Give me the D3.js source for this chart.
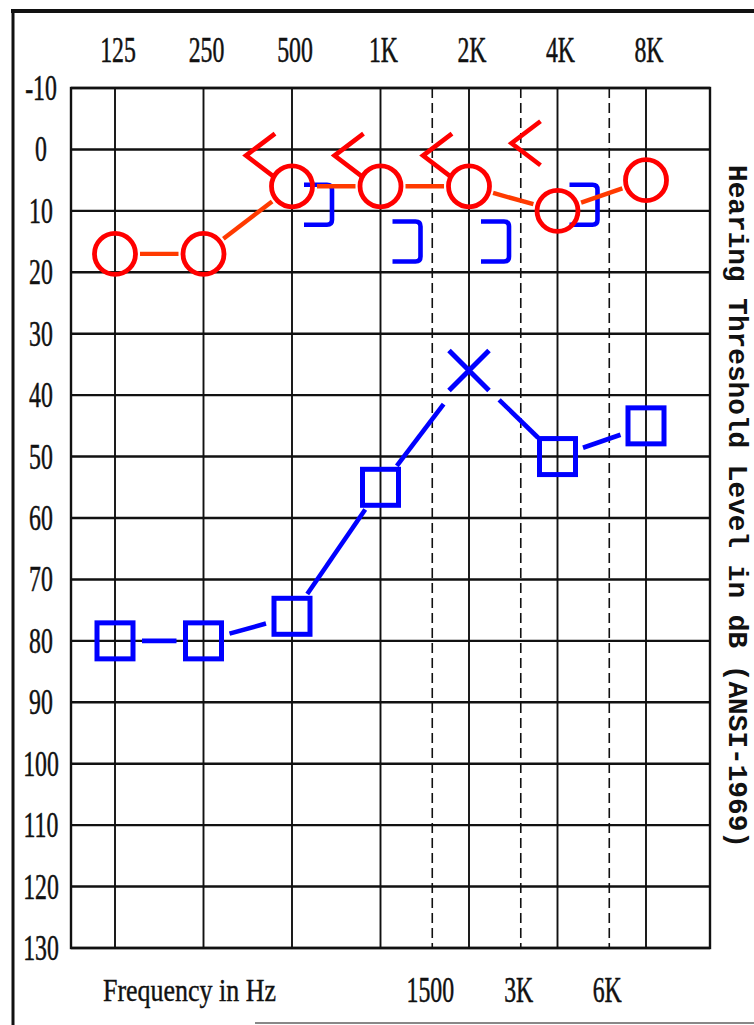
<!DOCTYPE html>
<html><head><meta charset="utf-8">
<script src="https://cdn.jsdelivr.net/npm/d3@7"></script>
<style>body{margin:0;background:#fff}svg{display:block}</style>
</head><body>
<svg id="c" width="754" height="1025"></svg>
<script>
// ---------- data ----------
const freqs = [125, 250, 500, 1000, 2000, 4000, 8000];
const freqLabels = ["125", "250", "500", "1K", "2K", "4K", "8K"];
const halfFreqs = [1500, 3000, 6000];
const halfLabels = ["1500", "3K", "6K"];
const dbTicks = d3.range(-10, 131, 10);
const rightAir = [17, 17, 6, 6, 6, 10, 5];            // red circles
const leftAir = [80, 80, 76, 55, 36, 50, 45];          // blue squares / X
const leftAirSymbol = ["square", "square", "square", "square", "x", "square", "square"];
const boneFreqs = [500, 1000, 2000, 4000];
const rightBone = [1, 1, 1, -1];                       // red "<"
const leftBone = [9, 15, 15, 9];                       // blue "]"
const xTitle = "Frequency in Hz";
const yTitle = "Hearing Threshold Level in dB (ANSI-1969)";

// ---------- layout ----------
const W = 754, H = 1025;
const plot = {left: 71, right: 710, top: 88, bottom: 948};
const svg = d3.select("#c");
svg.append("rect").attr("width", W).attr("height", H).attr("fill", "#fff");

const x = d3.scaleLog().domain([125, 8000]).range([115, 646]);
const y = d3.scaleLinear().domain([-10, 130]).range([plot.top, plot.bottom]);

const RED = "#ff0000", RED_LINE = "#ff3a00", BLUE = "#0000ff", INK = "#111";
const serif = "'Liberation Serif', 'DejaVu Serif', serif";

// outer frame pieces
svg.append("line").attr("x1", 11).attr("x2", W).attr("y1", 11).attr("y2", 11)
  .attr("stroke", INK).attr("stroke-width", 4);
svg.append("line").attr("x1", 13).attr("x2", 13).attr("y1", 9).attr("y2", H)
  .attr("stroke", INK).attr("stroke-width", 3);
svg.append("line").attr("x1", 255).attr("x2", W).attr("y1", 1023).attr("y2", 1023)
  .attr("stroke", "#888").attr("stroke-width", 2);

// grid
const g = svg.append("g");
g.selectAll("line.h").data(dbTicks).join("line").attr("class", "h")
  .attr("x1", plot.left).attr("x2", plot.right)
  .attr("y1", d => y(d)).attr("y2", d => y(d))
  .attr("stroke", INK).attr("stroke-width", 2.4);
g.selectAll("line.v").data(freqs).join("line").attr("class", "v")
  .attr("x1", d => x(d)).attr("x2", d => x(d))
  .attr("y1", plot.top).attr("y2", plot.bottom)
  .attr("stroke", INK).attr("stroke-width", 1.9);
g.selectAll("line.vd").data(halfFreqs).join("line").attr("class", "vd")
  .attr("x1", d => x(d)).attr("x2", d => x(d))
  .attr("y1", plot.top).attr("y2", plot.bottom)
  .attr("stroke", INK).attr("stroke-width", 1.6).attr("stroke-dasharray", "10,5");
g.append("rect").attr("x", plot.left).attr("y", plot.top)
  .attr("width", plot.right - plot.left).attr("height", plot.bottom - plot.top)
  .attr("fill", "none").attr("stroke", INK).attr("stroke-width", 2.4);

// condensed serif labels
function label(parent, tx, ty, text, size, sx) {
  parent.append("g").attr("transform", `translate(${tx},${ty}) scale(${sx},1)`)
    .append("text").attr("text-anchor", "middle")
    .attr("font-family", serif).attr("font-size", size).attr("fill", INK)
    .attr("stroke", INK).attr("stroke-width", 0.5).text(text);
}
freqs.forEach((f, i) => label(svg, x(f) + 3, 62, freqLabels[i], 35, 0.68));
halfFreqs.forEach((f, i) => label(svg, x(f) - 2, 1002, halfLabels[i], 35, 0.68));
dbTicks.forEach(d => label(svg, plot.left - 30, y(d) + 12, String(d), 35, 0.68));

svg.append("text").attr("x", 103).attr("y", 1001)
  .attr("font-family", serif).attr("font-size", 31).attr("fill", INK)
  .attr("stroke", INK).attr("stroke-width", 0.4)
  .attr("textLength", 173).attr("lengthAdjust", "spacingAndGlyphs").text(xTitle);

svg.append("text").attr("transform", "translate(729,165) rotate(90)")
  .attr("font-family", "'Liberation Mono', 'DejaVu Sans Mono', monospace")
  .attr("font-size", 27).attr("font-weight", "bold").attr("fill", INK)
  .attr("textLength", 683).attr("lengthAdjust", "spacingAndGlyphs").text(yTitle);

// helpers
function seg(p1, p2, g1, g2) {
  const dx = p2[0] - p1[0], dy = p2[1] - p1[1], L = Math.hypot(dx, dy);
  const ux = dx / L, uy = dy / L;
  return [p1[0] + ux * g1, p1[1] + uy * g1, p2[0] - ux * g2, p2[1] - uy * g2];
}

// ---------- left (blue) bone "]" ----------
const lb = svg.append("g");
boneFreqs.forEach((f, i) => {
  const cx = x(f), cy = y(leftBone[i]);
  lb.append("path")
    .attr("d", `M${cx + 12},${cy - 20} H${cx + 35} Q${cx + 40},${cy - 20} ${cx + 40},${cy - 15} V${cy + 15} Q${cx + 40},${cy + 20} ${cx + 35},${cy + 20} H${cx + 12}`)
    .attr("fill", "none").attr("stroke", BLUE).attr("stroke-width", 4.6);
});

// ---------- left air (blue) ----------
const la = svg.append("g");
const lpts = freqs.map((f, i) => [x(f), y(leftAir[i])]);
const gapOf = s => s === "x" ? 42 : 27;
for (let i = 0; i < lpts.length - 1; i++) {
  const s = seg(lpts[i], lpts[i + 1], gapOf(leftAirSymbol[i]), gapOf(leftAirSymbol[i + 1]));
  la.append("line").attr("x1", s[0]).attr("y1", s[1]).attr("x2", s[2]).attr("y2", s[3])
    .attr("stroke", BLUE).attr("stroke-width", 4.6);
}
lpts.forEach((p, i) => {
  if (leftAirSymbol[i] === "square") {
    la.append("rect").attr("x", p[0] - 18).attr("y", p[1] - 18).attr("width", 36).attr("height", 36)
      .attr("fill", "none").attr("stroke", BLUE).attr("stroke-width", 5);
  } else {
    const h = 20;
    la.append("path").attr("d", `M${p[0] - h},${p[1] - h} L${p[0] + h},${p[1] + h} M${p[0] + h},${p[1] - h} L${p[0] - h},${p[1] + h}`)
      .attr("fill", "none").attr("stroke", BLUE).attr("stroke-width", 5);
  }
});

// ---------- right bone (red "<") ----------
const rb = svg.append("g");
boneFreqs.forEach((f, i) => {
  const cx = x(f), cy = y(rightBone[i]);
  rb.append("path").attr("d", `M${cx - 17},${cy - 22} L${cx - 46},${cy} L${cx - 17},${cy + 22}`)
    .attr("fill", "none").attr("stroke", RED).attr("stroke-width", 4.6);
});

// ---------- right air (red circles) ----------
const ra = svg.append("g");
const rpts = freqs.map((f, i) => [x(f), y(rightAir[i])]);
for (let i = 0; i < rpts.length - 1; i++) {
  const s = seg(rpts[i], rpts[i + 1], 25, 25);
  ra.append("line").attr("x1", s[0]).attr("y1", s[1]).attr("x2", s[2]).attr("y2", s[3])
    .attr("stroke", RED_LINE).attr("stroke-width", 4.4);
}
ra.selectAll("circle").data(rpts).join("circle")
  .attr("cx", d => d[0]).attr("cy", d => d[1]).attr("r", 20.5)
  .attr("fill", "none").attr("stroke", RED).attr("stroke-width", 4.8);
</script>
</body></html>
